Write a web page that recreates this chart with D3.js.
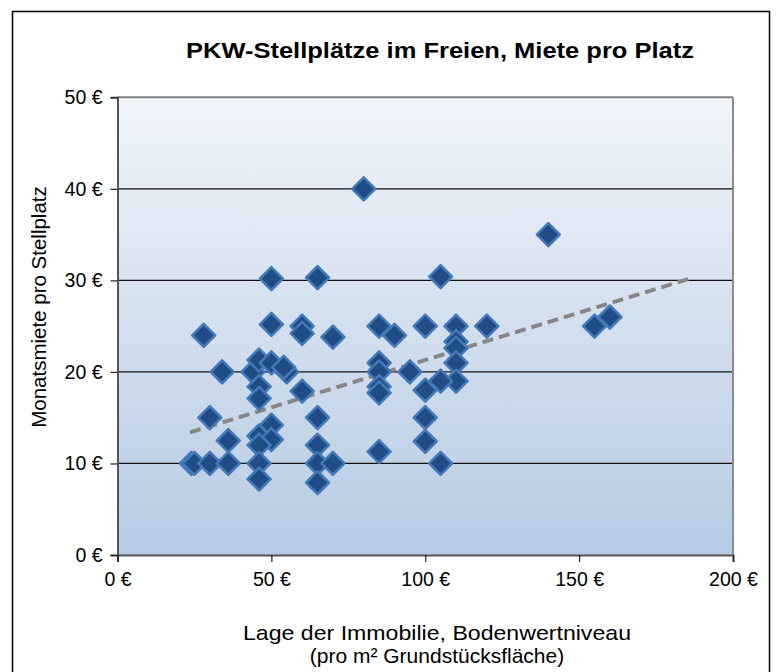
<!DOCTYPE html>
<html><head><meta charset="utf-8">
<script src="https://cdn.jsdelivr.net/npm/d3@7"></script>
<style>html,body{margin:0;padding:0;background:#fff;}svg{display:block;}</style>
</head><body>
<svg id="chart" width="776" height="672"></svg>
<script>
const title = "PKW-Stellplätze im Freien, Miete pro Platz";
const yTitle = "Monatsmiete pro Stellplatz";
const xTitle1 = "Lage der Immobilie,  Bodenwertniveau";
const xTitle2 = "(pro m² Grundstücksfläche)";
const xTicks = [0, 50, 100, 150, 200];
const yTicks = [0, 10, 20, 30, 40, 50];
const bodenwert = [24,25,30,36,36,30,28,34,44,46,46,46,50,55,54,50,50,65,60,60,70,60,65,50,46,50,46,46,46,65,65,70,65,80,105,85,90,100,110,120,110,110,110,110,105,85,85,85,85,95,100,100,100,85,105,140,155,160];
const miete    = [10,10,10,10,12.5,15,24,20,20,21.3,18.4,17.1,21,20,20.5,25.2,30.2,30.3,25,24.2,23.8,17.9,15,14.2,13,12.6,12,10,8.3,12,10,10,7.9,40,30.4,25,24,25,25,25,23.3,22.6,21,19,19,21,20,18.4,17.7,20,18,15,12.4,11.3,10,35,25,26];
const trendX = [23.6, 187];
const trendY = [13.4, 30.3];

const svg = d3.select("#chart");
const font = "'Liberation Sans', Arial, sans-serif";
const L = 117.5, R = 733, T = 97.3, B = 555;
const x = d3.scaleLinear().domain([0, 200]).range([L, R]);
const y = d3.scaleLinear().domain([0, 50]).range([B, T]);

// outer chart border
svg.append("rect").attr("x", 12.5).attr("y", 11.5).attr("width", 757).attr("height", 680)
  .attr("fill", "#fff").attr("stroke", "#000").attr("stroke-width", 1.5);

const defs = svg.append("defs");
const grad = defs.append("linearGradient").attr("id", "bg").attr("x1", 0).attr("y1", 0).attr("x2", 0).attr("y2", 1);
grad.append("stop").attr("offset", "0%").attr("stop-color", "#f1f5fb");
grad.append("stop").attr("offset", "50%").attr("stop-color", "#d3dfee");
grad.append("stop").attr("offset", "100%").attr("stop-color", "#b6cbe3");

svg.append("rect").attr("x", L).attr("y", T).attr("width", R - L).attr("height", B - T).attr("fill", "url(#bg)");

// gridlines
svg.append("g").selectAll("line").data(yTicks.filter(d => d > 0 && d < 50)).join("line")
  .attr("x1", L).attr("x2", R).attr("y1", d => y(d)).attr("y2", d => y(d))
  .attr("stroke", "#111").attr("stroke-width", 1.2);

// plot border top/right
svg.append("line").attr("x1", L).attr("x2", R).attr("y1", T).attr("y2", T).attr("stroke", "#7f7f7f").attr("stroke-width", 2);
svg.append("line").attr("x1", R).attr("x2", R).attr("y1", T).attr("y2", B).attr("stroke", "#8c8c8c").attr("stroke-width", 2);

// axes
const fmt = d => d + " €";
const yAxis = svg.append("g").attr("transform", `translate(${L},0)`)
  .call(d3.axisLeft(y).tickValues(yTicks).tickFormat(fmt).tickSize(7).tickPadding(8));
const xAxis = svg.append("g").attr("transform", `translate(0,${B})`)
  .call(d3.axisBottom(x).tickValues(xTicks).tickFormat(fmt).tickSize(7).tickPadding(10));
[yAxis, xAxis].forEach(g => {
  g.select(".domain").attr("stroke", "#555").attr("stroke-width", 2);
  g.selectAll(".tick line").attr("stroke", "#222").attr("stroke-width", 1.2);
  g.selectAll(".tick text").attr("font-family", font).attr("font-size", 19.5).attr("fill", "#000");
});

// trend line
svg.append("path")
  .attr("d", d3.line().x(d => x(d[0])).y(d => y(d[1]))(trendX.map((v, i) => [v, trendY[i]])))
  .attr("stroke", "#868686").attr("stroke-width", 4).attr("stroke-dasharray", "11,6").attr("fill", "none");

// markers
const s = 11.5;
const pts = bodenwert.map((v, i) => [v, miete[i]]);
svg.append("g").selectAll("path").data(pts).join("path")
  .attr("transform", d => `translate(${x(d[0])},${y(d[1])})`)
  .attr("d", `M0,${-s}L${s},0L0,${s}L${-s},0Z`)
  .attr("fill", "#214d86").attr("stroke", "#4479b9").attr("stroke-width", 2.5).attr("stroke-linejoin", "round");

// titles
svg.append("text").attr("x", 440).attr("y", 58).attr("text-anchor", "middle")
  .attr("font-family", font).attr("font-weight", "bold").attr("font-size", 22)
  .attr("textLength", 508).attr("lengthAdjust", "spacingAndGlyphs").text(title);
svg.append("text").attr("transform", "translate(46,307) rotate(-90)").attr("text-anchor", "middle")
  .attr("font-family", font).attr("font-size", 20.5).text(yTitle);
svg.append("text").attr("x", 437).attr("y", 640).attr("text-anchor", "middle")
  .attr("font-family", font).attr("font-size", 21).attr("textLength", 388).attr("lengthAdjust", "spacingAndGlyphs").text(xTitle1);
svg.append("text").attr("x", 437).attr("y", 663).attr("text-anchor", "middle")
  .attr("font-family", font).attr("font-size", 21).text(xTitle2);
</script>
</body></html>
